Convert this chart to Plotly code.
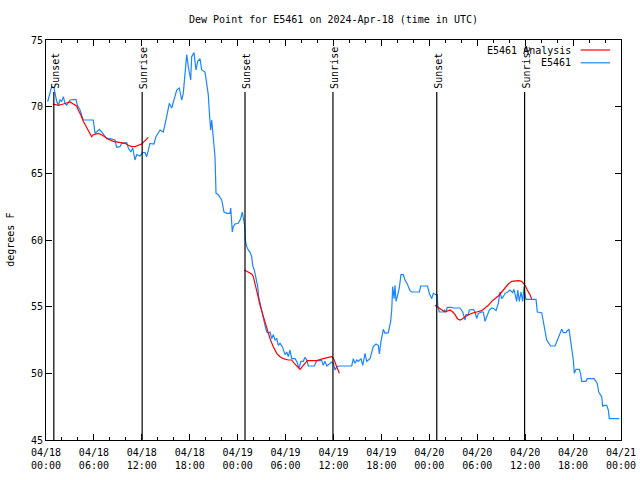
import pandas as pd
import plotly.graph_objects as go

START = pd.Timestamp("2024-04-18 00:00")

# E5461 observations: hours since 04/18 00:00 UTC, dew point (F)
obs_hours = [0.21, 0.71, 1.00, 1.34, 1.54, 1.75, 1.97, 2.17, 2.38, 2.59, 3.01, 3.76, 3.92, 4.26, 4.67,
             5.92, 6.14, 6.35, 6.67, 6.97, 7.18, 7.60, 8.01, 8.64, 8.85, 9.27, 9.48, 10.11, 10.31, 10.61,
             10.86, 11.14, 11.36, 11.77, 12.06, 12.40, 12.61, 13.02, 13.52, 13.77, 14.28, 14.69, 15.11,
             15.44, 15.74, 16.37, 16.69, 16.99, 17.19, 17.49, 17.62, 17.82, 18.12, 18.24, 18.53, 18.78,
             19.00, 19.28, 19.50, 19.91, 20.12, 20.32, 20.45, 20.62, 20.75, 20.95, 21.16, 21.29, 21.58,
             22.00, 22.29, 22.63, 23.04, 23.13, 23.33, 23.45, 23.67, 24.08, 24.38, 24.58, 24.71, 24.88,
             24.96, 25.13, 25.33, 25.54, 25.76, 25.88, 26.08, 26.30, 26.51, 26.63, 26.80, 27.01, 27.21,
             27.42, 27.64, 27.84, 28.05, 28.26, 28.46, 28.68, 28.89, 29.09, 29.30, 29.59, 29.93, 30.14,
             30.34, 30.55, 30.77, 31.18, 31.39, 31.68, 31.93, 32.22, 32.43, 32.65, 32.85, 33.60, 33.90,
             34.52, 34.72, 34.94, 35.15, 35.78, 35.98, 36.19, 36.40, 36.73, 38.28, 38.48, 38.69, 38.91,
             39.11, 39.44, 39.66, 39.95, 40.16, 40.36, 40.57, 40.98, 41.32, 41.61, 41.74, 41.95, 42.24,
             42.45, 42.86, 43.16, 43.29, 43.41, 43.58, 43.70, 43.83, 43.99, 44.24, 44.45, 44.74, 44.95,
             45.24, 45.58, 45.79, 46.75, 46.92, 47.77, 48.00, 48.30, 48.50, 48.84, 49.00, 49.05, 49.25,
             49.75, 49.90, 50.09, 50.25, 50.80, 51.00, 51.84, 52.18, 52.47, 52.59, 52.88, 53.01, 53.51,
             53.72, 53.93, 54.13, 54.56, 54.76, 54.97, 55.19, 55.51, 55.81, 56.10, 56.35, 56.64, 56.85,
             57.06, 57.26, 57.48, 57.81, 58.10, 58.44, 58.60, 58.94, 59.07, 59.27, 59.48, 59.69, 59.86,
             59.98, 60.11, 61.36, 61.52, 62.07, 62.27, 62.49, 62.70, 62.90, 63.20, 63.74, 63.95, 64.28,
             64.58, 64.78, 65.11, 65.28, 65.49, 65.62, 65.83, 66.03, 66.16, 66.37, 66.78, 66.96, 67.08,
             67.62, 67.78, 68.62, 68.87, 69.04, 69.21, 69.37, 69.58, 69.71, 69.87, 70.21, 70.41, 70.54,
             71.79]
obs_values = [70.37, 71.5, 71.4, 70.4, 70.1, 70.5, 70.4, 70.75, 70.25, 70.1, 70.5, 70.55, 70.1, 69.75, 69.0,
              69.0, 68.0, 68.1, 68.3, 68.1, 67.9, 67.6, 67.6, 67.5, 66.95, 67.0, 67.25, 67.3, 66.9, 66.6,
              66.9, 66.0, 66.4, 66.3, 66.55, 66.55, 66.25, 67.25, 67.2, 67.75, 68.25, 68.1, 69.25,
              70.25, 69.9, 71.25, 71.4, 70.5, 71.0, 72.75, 73.9, 73.0, 72.0, 73.75, 74.05, 72.75,
              73.4, 73.6, 72.75, 72.6, 71.5, 70.9, 69.6, 68.25, 69.0, 67.75, 66.25, 63.5, 63.4,
              63.0, 62.1, 62.0, 62.0, 62.4, 60.6, 61.0, 61.2, 61.25, 61.6, 62.1, 61.5, 61.1,
              60.0, 59.5, 59.25, 59.1, 58.75, 58.1, 57.75, 57.0, 56.5, 55.75, 55.25, 54.75, 54.0,
              53.6, 53.1, 53.0, 53.1, 52.6, 52.9, 52.5, 52.6, 52.1, 52.25, 52.0, 51.4, 51.6,
              51.25, 51.75, 51.1, 51.1, 50.9, 50.4, 50.9, 50.9, 51.2, 51.0, 50.55, 50.55, 50.95,
              50.95, 50.6, 50.9, 50.55, 50.85, 50.75, 50.25, 50.5, 50.55, 50.55, 51.1, 50.75, 51.0,
              50.9, 51.1, 50.6, 51.5, 50.9, 51.0, 51.1, 52.0, 52.2, 52.1, 51.45, 52.4, 53.3,
              53.0, 53.05, 53.9, 54.75, 56.5, 55.6, 56.6, 55.4, 55.75, 56.4, 57.4, 57.4, 57.0,
              56.7, 56.2, 56.1, 56.1, 56.55, 56.55, 56.0, 55.6, 56.0, 55.9, 55.9, 55.1, 54.6,
              54.6, 54.75, 54.6, 54.95, 54.95, 54.9, 54.9, 54.6, 54.0, 54.4, 54.4, 54.75, 54.8,
              54.6, 54.1, 54.5, 54.6, 54.6, 53.9, 54.25, 54.75, 54.9, 54.85, 54.7, 55.25, 56.1,
              55.6, 55.75, 56.0, 56.1, 56.25, 56.05, 56.3, 55.4, 56.25, 55.4, 56.1, 55.4, 56.5,
              55.9, 55.55, 55.55, 54.6, 54.55, 53.9, 53.4, 52.5, 52.3, 52.05, 52.05, 52.4, 52.9,
              53.3, 53.05, 53.05, 53.2, 53.3, 52.75, 52.0, 51.0, 50.0, 50.3, 50.3, 49.9, 49.4,
              49.4, 49.6, 49.6, 49.4, 49.2, 48.6, 48.4, 48.25, 47.5, 47.6, 47.6, 47.25, 46.6,
              46.6]

# E5461 Analysis (None = gap between analysis segments)
ana_hours = [0.84, 1.54, 2.17, 2.59, 3.01, 3.42, 3.84, 4.04, 4.35, 4.67, 5.10, 5.42, 5.72, 5.92, 6.55,
             6.97, 7.39, 7.80, 8.43, 9.48, 9.89, 10.31, 10.73, 11.14, 11.56, 11.98, 12.40, 12.81,
             None,
             24.83, 25.33, 25.76, 25.96, 26.17, 26.46, 26.80, 27.21, 27.64, 28.05, 28.46, 28.89, 29.30,
             29.72, 30.34, 30.77, 31.09, 31.52, 31.81, 32.22, 32.72, 33.90, 34.31, 34.72, 35.35, 35.78,
             35.98, 36.19, 36.40, 36.73,
             None,
             48.71, 49.13, 49.55, 49.96, 50.59, 50.93, 51.22, 51.51, 51.84, 52.18, 52.47, 52.88, 53.31,
             53.93, 54.56, 54.97, 55.39, 55.81, 56.22, 56.64, 57.06, 57.48, 57.89, 58.32, 58.73, 59.14,
             59.57, 59.98, 60.27, 60.61, 60.82]
ana_values = [70.2, 70.1, 70.2, 70.3, 70.35, 70.2, 70.05, 69.75, 69.4, 68.9, 68.4, 68.0, 67.75, 67.9, 68.0,
              67.9, 67.7, 67.55, 67.4, 67.3, 67.25, 67.1, 67.0, 67.0, 67.1, 67.2, 67.45, 67.7,
              None,
              57.75, 57.6, 57.45, 57.25, 56.6, 56.0, 55.1, 54.25, 53.5, 52.6, 52.0, 51.5, 51.25,
              51.1, 51.0, 51.0, 50.75, 50.5, 50.3, 50.6, 50.95, 50.95, 51.05, 51.1, 51.2, 51.25,
              51.15, 50.75, 50.5, 50.0,
              None,
              55.1, 54.95, 54.75, 54.6, 54.75, 54.6, 54.4, 54.1, 54.0, 54.1, 54.25, 54.4, 54.5,
              54.6, 54.7, 54.9, 55.1, 55.4, 55.6, 55.8, 56.1, 56.45, 56.7, 56.9, 56.95, 56.95,
              56.9, 56.6, 56.25, 55.9, 55.55]

# Sunrise / sunset events (hours since start)
event_hours = [0.98, 12.04, 24.92, 35.93, 48.93, 59.93]
event_labels = ["Sunset", "Sunrise", "Sunset", "Sunrise", "Sunset", "Sunrise"]
event_top = 71.1

title_text = "Dew Point for E5461 on 2024-Apr-18 (time in UTC)"
y_title = "degrees F"
legend_names = ["E5461 Analysis", "E5461"]
legend_colors = ["#ff0000", "#1a86ff"]


def to_time(hours):
    return [None if h is None else START + pd.Timedelta(hours=h) for h in hours]


FONT = "DejaVu Sans Mono"

fig = go.Figure()
fig.add_trace(go.Scatter(x=to_time(obs_hours), y=obs_values, mode="lines",
                         line=dict(color=legend_colors[1], width=1.2), showlegend=False,
                         name=legend_names[1]))
fig.add_trace(go.Scatter(x=to_time(ana_hours), y=ana_values, mode="lines",
                         line=dict(color=legend_colors[0], width=1.2), showlegend=False,
                         connectgaps=False, name=legend_names[0]))

for t, lab in zip(to_time(event_hours), event_labels):
    fig.add_shape(type="line", x0=t, x1=t, y0=45, y1=event_top, xref="x", yref="y",
                  line=dict(color="black", width=1.2), layer="above")
    fig.add_annotation(x=t, y=event_top, xref="x", yref="y", text=lab, textangle=-90,
                       showarrow=False, xanchor="center", yanchor="bottom", xshift=1, yshift=1,
                       font=dict(family=FONT, size=10, color="black"))

# Legend (gnuplot style: text right-aligned, sample line on the right)
for i, (name, col) in enumerate(zip(legend_names, legend_colors)):
    yp = 0.975 - i * 0.032
    fig.add_annotation(x=0.917, y=yp, xref="paper", yref="paper", text=name, showarrow=False,
                       xanchor="right", yanchor="middle", font=dict(family=FONT, size=10, color="black"))
    fig.add_shape(type="line", x0=0.930, x1=0.981, y0=yp, y1=yp, xref="paper", yref="paper",
                  line=dict(color=col, width=1.2))

fig.add_annotation(x=-0.063, y=0.5, xref="paper", yref="paper", text=y_title, textangle=-90,
                   showarrow=False, xanchor="center", yanchor="middle",
                   font=dict(family=FONT, size=10, color="black"))

fig.update_layout(
    width=640, height=480,
    margin=dict(l=46, r=19, t=40, b=40, pad=0, autoexpand=False),
    paper_bgcolor="white", plot_bgcolor="white",
    title=dict(text=title_text, x=0.5, xref="paper", y=1 - 19 / 480, yref="container",
               xanchor="center", yanchor="middle", font=dict(family=FONT, size=10, color="black")),
    font=dict(family=FONT, size=10, color="black"),
)
fig.update_xaxes(
    range=[START, START + pd.Timedelta(hours=72)], automargin=False,
    dtick=6 * 3600 * 1000, tick0=START, tickformat="%m/%d<br>%H:%M",
    ticks="inside", ticklen=6, tickcolor="black", showline=True, linecolor="black", linewidth=1,
    mirror="allticks", showgrid=False, zeroline=False, ticklabelstandoff=3,
    minor=dict(dtick=2 * 3600 * 1000, ticks="inside", ticklen=3, tickcolor="black", showgrid=False),
    tickfont=dict(family=FONT, size=10, color="black"),
)
fig.update_yaxes(
    range=[45, 75], dtick=5, tick0=45, automargin=False,
    ticks="inside", ticklen=6, tickcolor="black", showline=True, linecolor="black", linewidth=1,
    mirror="allticks", showgrid=False, zeroline=False,
    tickfont=dict(family=FONT, size=10, color="black"),
)

fig.write_html("out.html")
